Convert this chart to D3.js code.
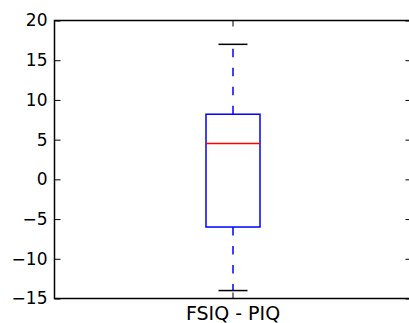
<!DOCTYPE html>
<html><head><meta charset="utf-8">
<script src="https://cdn.jsdelivr.net/npm/d3@7"></script>
<style>body{margin:0;background:#fff}svg{display:block}</style>
</head><body>
<script>
const categories = ["FSIQ - PIQ"];
const whiskerLow = [-14];
const q1 = [-6];
const median = [4.5];
const q3 = [8.2];
const whiskerHigh = [17];
const yTicks = [-15, -10, -5, 0, 5, 10, 15, 20];

const W = 409, H = 323;
const m = {left: 54.5, right: 411.5, top: 20.5, bottom: 298.5};
const svg = d3.select("body").append("svg").attr("width", W).attr("height", H);
const y = d3.scaleLinear().domain([-15, 20]).range([m.bottom, m.top]);
const x = d3.scaleBand().domain(categories).range([m.left, m.right]).paddingInner(0).paddingOuter(0);
const boxW = 54, capW = 29;
const font = "DejaVu Sans", fs = 17;
const lw = 1.5;

// left axis
const yAxis = d3.axisLeft(y).tickValues(yTicks).tickSize(-6).tickPadding(7)
  .tickFormat(d => d < 0 ? "\u2212" + Math.abs(d) : String(d));
const gy = svg.append("g").attr("transform", `translate(${m.left},0)`).call(yAxis);
gy.select(".domain").remove();
gy.selectAll("line").attr("stroke", "#000").attr("stroke-width", 1);
gy.selectAll("text").attr("font-family", font).attr("font-size", fs).attr("fill", "#000");
// right ticks
const gyr = svg.append("g").attr("transform", `translate(${m.right},0)`)
  .call(d3.axisRight(y).tickValues(yTicks).tickSize(-6).tickFormat(""));
gyr.select(".domain").remove();
gyr.selectAll("line").attr("stroke", "#000");

// bottom axis
const xAxis = d3.axisBottom(x).tickSize(-6).tickPadding(8);
const gx = svg.append("g").attr("transform", `translate(0,${m.bottom})`).call(xAxis);
gx.select(".domain").remove();
gx.selectAll("line").attr("stroke", "#000");
gx.selectAll("text").attr("font-family", font).attr("font-size", 19).attr("fill", "#000");
const gxt = svg.append("g").attr("transform", `translate(0,${m.top})`)
  .call(d3.axisTop(x).tickSize(-6).tickFormat(""));
gxt.select(".domain").remove();
gxt.selectAll("line").attr("stroke", "#000");

// frame
svg.append("rect").attr("x", m.left).attr("y", m.top)
  .attr("width", m.right - m.left).attr("height", m.bottom - m.top)
  .attr("fill", "none").attr("stroke", "#000").attr("stroke-width", 1.5);

// boxes
categories.forEach((c, i) => {
  const cx = x(c) + x.bandwidth() / 2;
  const g = svg.append("g");
  g.append("line").attr("x1", cx).attr("x2", cx).attr("y1", y(q3[i])).attr("y2", y(whiskerHigh[i]))
    .attr("stroke", "#0000ff").attr("stroke-width", lw).attr("stroke-dasharray", "8.5,10.5");
  g.append("line").attr("x1", cx).attr("x2", cx).attr("y1", y(q1[i])).attr("y2", y(whiskerLow[i]))
    .attr("stroke", "#0000ff").attr("stroke-width", lw).attr("stroke-dasharray", "8.5,10.5");
  [whiskerHigh[i], whiskerLow[i]].forEach(v => {
    g.append("line").attr("x1", cx - capW / 2).attr("x2", cx + capW / 2).attr("y1", y(v)).attr("y2", y(v))
      .attr("stroke", "#000").attr("stroke-width", lw);
  });
  g.append("rect").attr("x", cx - boxW / 2).attr("y", y(q3[i])).attr("width", boxW)
    .attr("height", y(q1[i]) - y(q3[i])).attr("fill", "none").attr("stroke", "#0000ff").attr("stroke-width", lw);
  g.append("line").attr("x1", cx - boxW / 2).attr("x2", cx + boxW / 2).attr("y1", y(median[i])).attr("y2", y(median[i]))
    .attr("stroke", "#ff0000").attr("stroke-width", lw);
});
</script>
</body></html>
